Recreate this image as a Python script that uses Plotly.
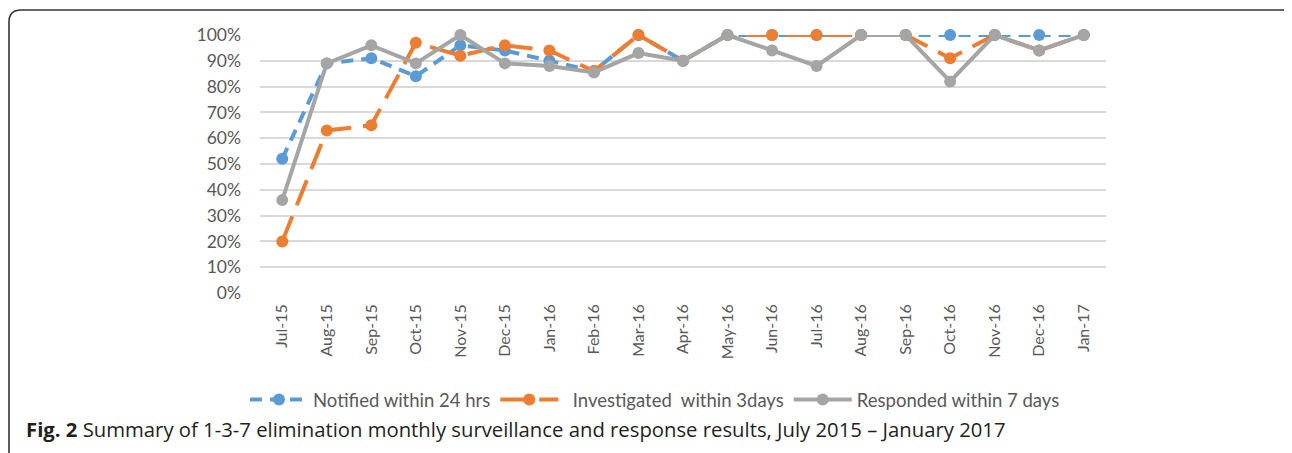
import plotly.graph_objects as go

months = ["Jul-15", "Aug-15", "Sep-15", "Oct-15", "Nov-15", "Dec-15", "Jan-16", "Feb-16",
          "Mar-16", "Apr-16", "May-16", "Jun-16", "Jul-16", "Aug-16", "Sep-16", "Oct-16",
          "Nov-16", "Dec-16", "Jan-17"]

notified = [52, 89, 91, 84, 96, 94, 90, 86, 100, 90, 100, 100, 100, 100, 100, 100, 100, 100, 100]
investigated = [20, 63, 65, 97, 92, 96, 94, 86, 100, 90, 100, 100, 100, 100, 100, 91, 100, 94, 100]
responded = [36, 89, 96, 89, 100, 89, 88, 85.5, 93, 90, 100, 94, 88, 100, 100, 82, 100, 94, 100]

y_ticks = [0, 10, 20, 30, 40, 50, 60, 70, 80, 90, 100]
y_tick_labels = ["0%", "10%", "20%", "30%", "40%", "50%", "60%", "70%", "80%", "90%", "100%"]

# page is rendered with an 8px body margin
OFF = 8
W, H = 1292 - OFF, 453 - OFF
ML, MT = 260 - OFF, 35 - OFF
PW, PH = 846, 258
MR = W - ML - PW
MB = H - MT - PH

def px(x):  # page pixel -> paper x
    return (x - OFF - ML) / PW

def py(y):  # page pixel -> paper y
    return (MT + PH - (y - OFF)) / PH

FONT = "Lato"
TXT = "#595959"

fig = go.Figure()
fig.add_trace(go.Scatter(
    x=months, y=notified, name="Notified within 24 hrs", mode="lines+markers",
    line=dict(color="#5B9BD5", width=4, dash="12px,8px"),
    marker=dict(size=12, color="#5B9BD5"), cliponaxis=False))
fig.add_trace(go.Scatter(
    x=months, y=investigated, name="  Investigated  within 3days", mode="lines+markers",
    line=dict(color="#ED7D31", width=4, dash="27px,12px"),
    marker=dict(size=12, color="#ED7D31"), cliponaxis=False))
fig.add_trace(go.Scatter(
    x=months, y=responded, name="Responded within 7 days", mode="lines+markers",
    line=dict(color="#A5A5A5", width=4),
    marker=dict(size=12, color="#A5A5A5"), cliponaxis=False))

border = (f"M {px(9)},{py(470)} L {px(9)},{py(22)} Q {px(9)},{py(10)} {px(21)},{py(10)} "
          f"L {px(1282)},{py(10)} Q {px(1290)},{py(10)} {px(1293)},{py(14)}")

fig.update_layout(
    width=W, height=H,
    margin=dict(l=ML, r=MR, t=MT, b=MB),
    paper_bgcolor="white", plot_bgcolor="white",
    font=dict(family=FONT, size=16, color=TXT),
    showlegend=True,
    legend=dict(orientation="h", x=px(245), xanchor="left", y=py(400), yanchor="middle",
                font=dict(family=FONT, size=18.5, color=TXT), itemwidth=58,
                traceorder="normal", bgcolor="rgba(0,0,0,0)"),
    xaxis=dict(type="category", range=[-0.5, len(months) - 0.5], tickangle=-90,
               showgrid=False, showline=False, ticks="", zeroline=False,
               ticklabelstandoff=7,
               tickfont=dict(family=FONT, size=16, color=TXT)),
    yaxis=dict(range=[0, 100], tickmode="array", tickvals=y_ticks, ticktext=y_tick_labels,
               showgrid=True, gridcolor="#D9D9D9", gridwidth=1.5, zeroline=False,
               showline=False, ticks="", ticklabelstandoff=18,
               tickfont=dict(family=FONT, size=17.5, color=TXT)),
    shapes=[dict(type="path", xref="paper", yref="paper", path=border,
                 line=dict(color="#333333", width=1.6))],
    annotations=[dict(xref="paper", yref="paper", x=px(24), y=py(429), xanchor="left",
                      yanchor="middle", showarrow=False,
                      text="<b>Fig. 2</b> Summary of 1-3-7 elimination monthly surveillance and response results, July 2015 – January 2017",
                      font=dict(family="Open Sans", size=20.3, color="#231F20"))],
)

fig.write_html("out.html")
